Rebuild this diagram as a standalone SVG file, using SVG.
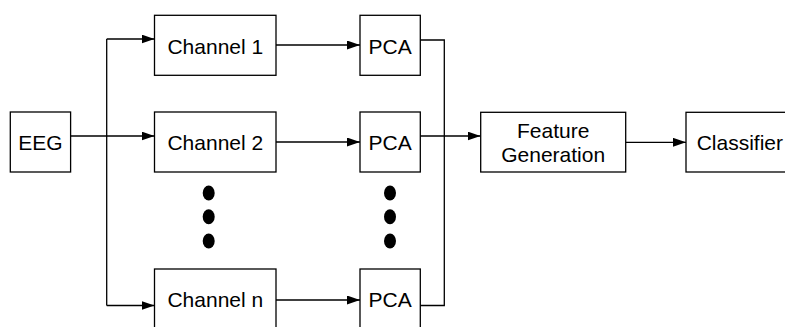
<svg xmlns="http://www.w3.org/2000/svg" width="785" height="327" viewBox="0 0 785 327">
<defs>
<marker id="ah" viewBox="0 0 13 9" refX="13" refY="4.5" markerWidth="13" markerHeight="9" markerUnits="userSpaceOnUse" orient="auto">
<path d="M0,0 L13,4.5 L0,9 Z" fill="#000"/>
</marker>
</defs>
<style>
.box{fill:#fff;stroke:#000;stroke-width:1.3}
.lbl{font-family:"Liberation Sans",Arial,sans-serif;font-size:21px;fill:#000;text-anchor:middle}
.ln{fill:none;stroke:#000;stroke-width:1.3}
.ar{marker-end:url(#ah)}
</style>
<rect width="785" height="327" fill="#fff"/>
<g id="connectors">
<path class="ln ar" d="M70.5,136 H154.5"/>
<path class="ln" d="M106.7,136 V39"/>
<path class="ln" d="M106.7,136 V305.5"/>
<path class="ln ar" d="M106.7,39 H154.5"/>
<path class="ln ar" d="M106.7,305.5 H154.5"/>
<path class="ln ar" d="M276,45 H360"/>
<path class="ln ar" d="M276,142 H360"/>
<path class="ln ar" d="M276,300 H360"/>
<path class="ln" d="M420,40 H444.3 V305.5 H420"/>
<path class="ln ar" d="M420,136 H480.5"/>
<path class="ln ar" d="M625.7,142.3 H686"/>
</g>
<g id="eeg"><rect class="box" x="10.3" y="112" width="60.3" height="60"/><text class="lbl" x="40.5" y="150">EEG</text></g>
<g id="channel1"><rect class="box" x="154.5" y="15.3" width="121.5" height="60"/><text class="lbl" x="215.3" y="53.5">Channel 1</text></g>
<g id="channel2"><rect class="box" x="154.5" y="112" width="121.5" height="60"/><text class="lbl" x="215.3" y="150">Channel 2</text></g>
<g id="channeln"><rect class="box" x="154.5" y="269" width="121.5" height="60"/><text class="lbl" x="215.3" y="306.5">Channel n</text></g>
<g id="dots1"><ellipse cx="208.7" cy="193" rx="6" ry="7.5"/><ellipse cx="208.7" cy="216.7" rx="6" ry="7.5"/><ellipse cx="208.7" cy="241" rx="6" ry="7.5"/></g>
<g id="pca1"><rect class="box" x="360" y="15.3" width="60.3" height="60"/><text class="lbl" x="390.2" y="53.5">PCA</text></g>
<g id="pca2"><rect class="box" x="360" y="112" width="60.3" height="60"/><text class="lbl" x="390.2" y="150">PCA</text></g>
<g id="pcan"><rect class="box" x="360" y="269" width="60.3" height="60"/><text class="lbl" x="390.2" y="306.5">PCA</text></g>
<g id="dots2"><ellipse cx="390" cy="193" rx="6" ry="7.5"/><ellipse cx="390" cy="216.7" rx="6" ry="7.5"/><ellipse cx="390" cy="241" rx="6" ry="7.5"/></g>
<g id="feature"><rect class="box" x="480.7" y="112.3" width="145" height="59.7"/><text class="lbl" x="553.2" y="138">Feature</text><text class="lbl" x="553.2" y="162">Generation</text></g>
<g id="classifier"><rect class="box" x="686" y="112.3" width="110" height="59.7"/><text class="lbl" x="696.7" y="150" style="text-anchor:start">Classifier</text></g>
</svg>
